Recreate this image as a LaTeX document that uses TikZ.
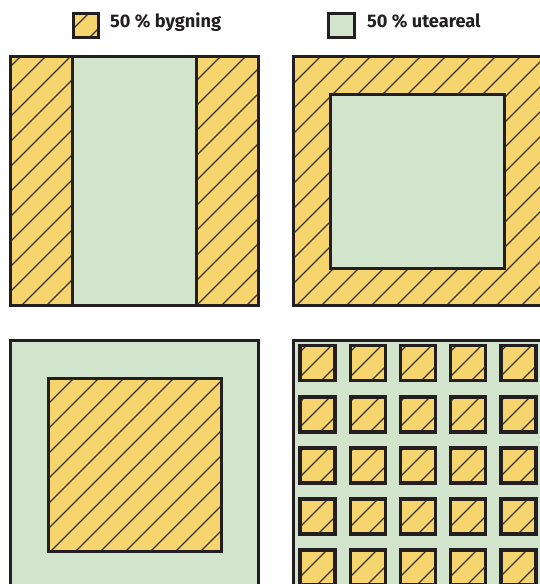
\documentclass[tikz,border=0pt]{standalone}
\usepackage{fontspec}
\setmainfont{Fira Sans}
\usetikzlibrary{positioning}
\definecolor{bygyellow}{HTML}{F6D56F}
\definecolor{utegreen}{HTML}{D3E4CD}
\definecolor{edgedark}{HTML}{231F20}
\definecolor{hatchdark}{HTML}{3B3527}

% hatched building area: yellow fill, 45 degree lines, dark border
\newcommand{\bygrect}[5][bygedge]{%
  \fill[bygyellow] (#2,#3) rectangle (#4,#5);
  \begin{scope}
    \clip (#2,#3) rectangle (#4,#5);
    \pgfmathtruncatemacro\hfrom{floor((#2+#3-2)/25)}
    \pgfmathtruncatemacro\hto{ceil((#4+#5-2)/25)}
    \foreach \k in {\hfrom,...,\hto}
      \draw[hatchline] ({25*\k+2-(#3)},#3) -- ({25*\k+2-(#5)},#5);
  \end{scope}
  \draw[#1] (#2,#3) rectangle (#4,#5);
}

\begin{document}
\begin{tikzpicture}[
  x=1pt, y=-1pt,
  bygedge/.style={draw=edgedark, line width=3},
  smalledge/.style={draw=edgedark, line width=3.4},
  uterect/.style={fill=utegreen, draw=edgedark, line width=3},
  hatchline/.style={draw=hatchdark, line width=1.1},
  legendtext/.style={font=\fontsize{18.2}{21}\selectfont\bfseries, text=edgedark, anchor=base west, inner sep=0pt},
]
\useasboundingbox (0,0) rectangle (540,584);
\clip (0,0) rectangle (540,584);

% Legend
\bygrect{73}{13}{98.5}{37}
\node[legendtext] (bygtext) at (110,27.5) {50 \% bygning};
\draw[uterect] (328.5,13) rectangle (354.5,37);
\node[legendtext] (utetext) at (367,27.5) {50 \% uteareal};

% Top left: two building strips, open strip between
\bygrect{10.5}{56.5}{258.5}{305}
\draw[uterect] (72,56.5) rectangle (196.5,305);

% Top right: building ring round an open court
\bygrect{293.5}{56.5}{541.5}{305}
\draw[uterect] (330.5,94.5) rectangle (504.5,268);

% Bottom left: one block in open ground
\draw[uterect] (10.5,340.5) rectangle (258.5,589);
\bygrect{48}{378}{221.5}{551.5}

% Bottom right: grid of small blocks
\draw[uterect] (293.5,340.5) rectangle (541.5,589);
\foreach \i in {0,...,4}{
  \foreach \j in {0,...,4}{
    \bygrect[smalledge]{300+50.2*\i}{345.7+51.1*\j}{335+50.2*\i}{380.7+51.1*\j}
  }
}

\end{tikzpicture}
\end{document}
